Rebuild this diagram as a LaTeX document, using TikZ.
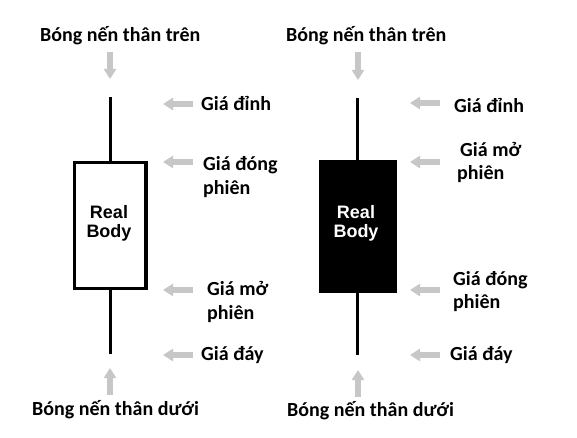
\documentclass[tikz,border=0pt]{standalone}
\usepackage{fontspec}
\setmainfont{Carlito}
\newfontfamily\bodyfont{Liberation Sans}
\usetikzlibrary{arrows.meta}
\begin{document}
\begin{tikzpicture}[x=1pt,y=-1pt,
  lbl/.style={anchor=base west, inner sep=0pt, font=\fontsize{20}{24}\selectfont\bfseries},
  ptr/.style={draw=black!22, line width=6pt, -{Triangle[width=12pt,length=10pt]}},
  wick/.style={line width=3pt},
  rb/.style={font=\bodyfont\bfseries\fontsize{18}{19}\selectfont, align=center, inner sep=0pt}]
\useasboundingbox[fill=white] (0,0) rectangle (577,438);

% ---- left candle (white body)
\node[draw, line width=3.5pt, fill=white, minimum width=71.5pt, minimum height=126pt, inner sep=0pt] (Lbody) at (110.25,225.5) {};
\coordinate (Lwt) at (110,97);
\coordinate (Lwb) at (110,354);
\draw[wick] (Lwt) -- (Lwt |- Lbody.north);
\draw[wick] (Lwb |- Lbody.south) -- (Lwb);
\node[rb] (Lrb) at (109,223.5) {Real\\Body};

% ---- right candle (black body)
\node[fill=black, minimum width=78pt, minimum height=132.5pt, inner sep=0pt] (Rbody) at (358,226.25) {};
\coordinate (Rwt) at (357.5,98);
\coordinate (Rwb) at (357.5,355);
\draw[wick] (Rwt) -- (Rwt |- Rbody.north);
\draw[wick] (Rwb |- Rbody.south) -- (Rwb);
\node[rb, text=white] (Rrb) at (356,223.5) {Real\\Body};

% ---- left labels
\node[lbl] (Ltop) at (40,42) {Bóng nến thân trên};
\node[lbl] (Lhi) at (201,111) {Giá đỉnh};
\node[lbl] (Lcl) at (203,171) {Giá đóng};
\node[lbl] (Lcl2) at (203,194) {phiên};
\node[lbl] (Lop) at (207,295) {Giá mở};
\node[lbl] (Lop2) at (207,319) {phiên};
\node[lbl] (Llo) at (201,360) {Giá đáy};
\node[lbl] (Lbot) at (32,415) {Bóng nến thân dưới};

% ---- right labels
\node[lbl] (Rtop) at (286,42) {Bóng nến thân trên};
\node[lbl] (Rhi) at (454,113) {Giá đỉnh};
\node[lbl] (Rop) at (460,157) {Giá mở};
\node[lbl] (Rop2) at (457,180) {phiên};
\node[lbl] (Rcl) at (453,285) {Giá đóng};
\node[lbl] (Rcl2) at (453,308) {phiên};
\node[lbl] (Rlo) at (450,360) {Giá đáy};
\node[lbl] (Rbot) at (287,416) {Bóng nến thân dưới};

% ---- arrow coordinates
\coordinate (LdT) at (110,52);  \coordinate (LdH) at (110,79);
\coordinate (LuT) at (110,395); \coordinate (LuH) at (110,368);
\coordinate (RdT) at (358,52);  \coordinate (RdH) at (358,80);
\coordinate (RuT) at (358,397); \coordinate (RuH) at (358,370);
\coordinate (L1T) at (193,104); \coordinate (L1H) at (163,104);
\coordinate (L2T) at (193,162); \coordinate (L2H) at (163,162);
\coordinate (L3T) at (193,290); \coordinate (L3H) at (163,290);
\coordinate (L4T) at (193,355); \coordinate (L4H) at (163,355);
\coordinate (R1T) at (440,103); \coordinate (R1H) at (410,103);
\coordinate (R2T) at (440,162); \coordinate (R2H) at (410,162);
\coordinate (R3T) at (440,290); \coordinate (R3H) at (410,290);
\coordinate (R4T) at (440,355); \coordinate (R4H) at (410,355);

\draw[ptr] (LdT) -- (LdH);
\draw[ptr] (LuT) -- (LuH);
\draw[ptr] (RdT) -- (RdH);
\draw[ptr] (RuT) -- (RuH);
\draw[ptr] (L1T) -- (L1H);
\draw[ptr] (L2T) -- (L2H);
\draw[ptr] (L3T) -- (L3H);
\draw[ptr] (L4T) -- (L4H);
\draw[ptr] (R1T) -- (R1H);
\draw[ptr] (R2T) -- (R2H);
\draw[ptr] (R3T) -- (R3H);
\draw[ptr] (R4T) -- (R4H);
\end{tikzpicture}
\end{document}
